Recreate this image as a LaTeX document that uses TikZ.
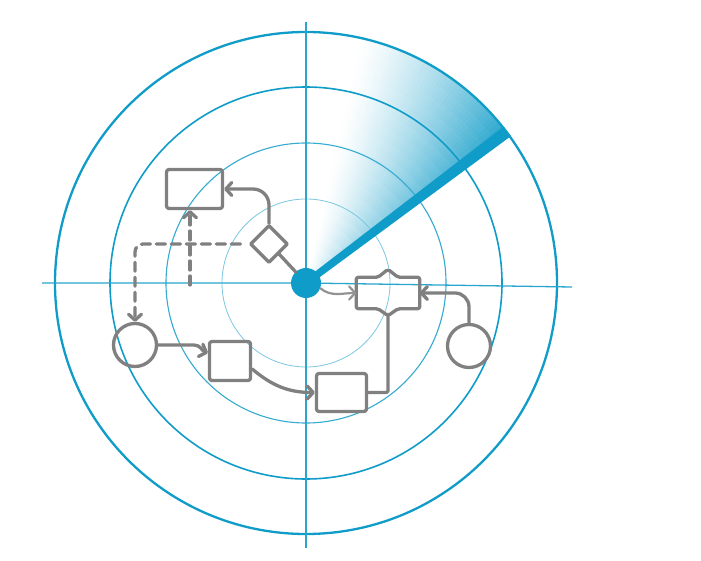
\documentclass[tikz,border=0pt]{standalone}
\usepackage{tikz}
\usetikzlibrary{arrows.meta,shapes.geometric}

\definecolor{radarblue}{RGB}{16,156,200}
\definecolor{flowgray}{RGB}{128,128,128}

\begin{document}
\begin{tikzpicture}[x=1pt,y=-1pt,>={Straight Barb[round,length=6pt,width=13pt]},
                    flow/.style={draw=flowgray,line width=3.3pt,line cap=round,line join=round},
                    task node/.style={rectangle,flow,rounded corners=2.5pt,inner sep=0pt},
                    gate node/.style={diamond,flow,aspect=1,minimum size=38pt,inner sep=0pt},
                    event node/.style={circle,flow,minimum size=43pt,inner sep=0pt}]

  \path[fill=white,use as bounding box] (0,0) rectangle (701,561);
  \coordinate (C) at (306,283);

  % sweep
  \begin{scope}[shift={(C)}]
    \foreach \i in {0,...,39}
      \foreach \j in {0,...,19}{
        \pgfmathsetmacro\tint{88*(1-\i/40)^1.3*((\j+1)/20)^0.65}
        \filldraw[radarblue!\tint!white,line width=0.4pt]
          (-37-\i:\j*12.5+0.1) arc[start angle=-37-\i,end angle=-38-\i,radius=\j*12.5+0.1]
          -- (-38-\i:\j*12.5+12.5) arc[start angle=-38-\i,end angle=-37-\i,radius=\j*12.5+12.5] -- cycle;
      }
  \end{scope}

  % rings and axes
  \draw[radarblue,line width=2.3pt] (C) circle[radius=251];
  \draw[radarblue,line width=1.6pt] (C) circle[radius=196];
  \draw[radarblue!85,line width=1.1pt] (C) circle[radius=140];
  \draw[radarblue!55,line width=0.8pt] (C) circle[radius=84];
  \draw[radarblue!90,line width=1.3pt] (306,22) -- (306,548);
  \draw[radarblue!90,line width=1.3pt] (42,283) -- (C) -- (572,287);

  % beam
  \begin{scope}[shift={(C)},rotate=37]
    \fill[radarblue] (0,-3.5) -- (252,-6) -- (252,6) -- (0,3.5) -- cycle;
  \end{scope}
  \node[circle,fill=radarblue,minimum size=30pt,inner sep=0pt] (hub) at (C) {};

  % flow
  \node[task node,minimum width=56pt,minimum height=39pt] (task1) at (194.5,189) {};
  \node[task node,minimum width=41pt,minimum height=39pt] (task2) at (230,361) {};
  \node[task node,minimum width=50pt,minimum height=38pt] (task3) at (341.5,392.5) {};
  \node[gate node] (gate) at (269,244) {};
  \node[event node] (start) at (135,345) {};
  \node[event node] (finish) at (469,346) {};
  \node[minimum width=63pt,minimum height=31pt,inner sep=0pt] (merge) at (388,293) {};
  \coordinate (mergetop) at ([yshift=8pt]merge.north);
  \coordinate (mergebot) at ([yshift=-7pt]merge.south);
  \draw[flow,rounded corners=2pt] (merge.north west) -- ([xshift=-10pt]merge.north) -- (mergetop)
    -- ([xshift=10pt]merge.north) -- (merge.north east) -- (merge.south east)
    -- ([xshift=10pt]merge.south) -- (mergebot) -- ([xshift=-10pt]merge.south)
    -- (merge.south west) -- cycle;
  \coordinate (tap) at (190,285);

  \draw[flow,->,rounded corners=16pt] (gate.north) |- (task1.east);
  \draw[flow] (gate.south east) -- (hub);
  \draw[flow,->,dash pattern=on 9pt off 6pt,rounded corners=8pt,shorten <=8pt] (gate.west) -| (start.north);
  \draw[flow,->,dash pattern=on 9pt off 6pt] (tap) -- (tap |- task1.south);
  \draw[flow,->] (start.east) -- ++(36,0) to[out=0,in=160] ([yshift=8pt]task2.west);
  \draw[flow,->] ([yshift=-8pt]task2.east) to[out=-40,in=180] (task3.west);
  \draw[flow,rounded corners=2pt] (task3.east) -| (mergebot);
  \draw[flow,->,line width=2.2pt,flowgray!85] (hub.-20) to[out=-40,in=180] (merge.west);
  \draw[flow,->,rounded corners=14pt] (finish.north) |- (merge.east);
\end{tikzpicture}
\end{document}
